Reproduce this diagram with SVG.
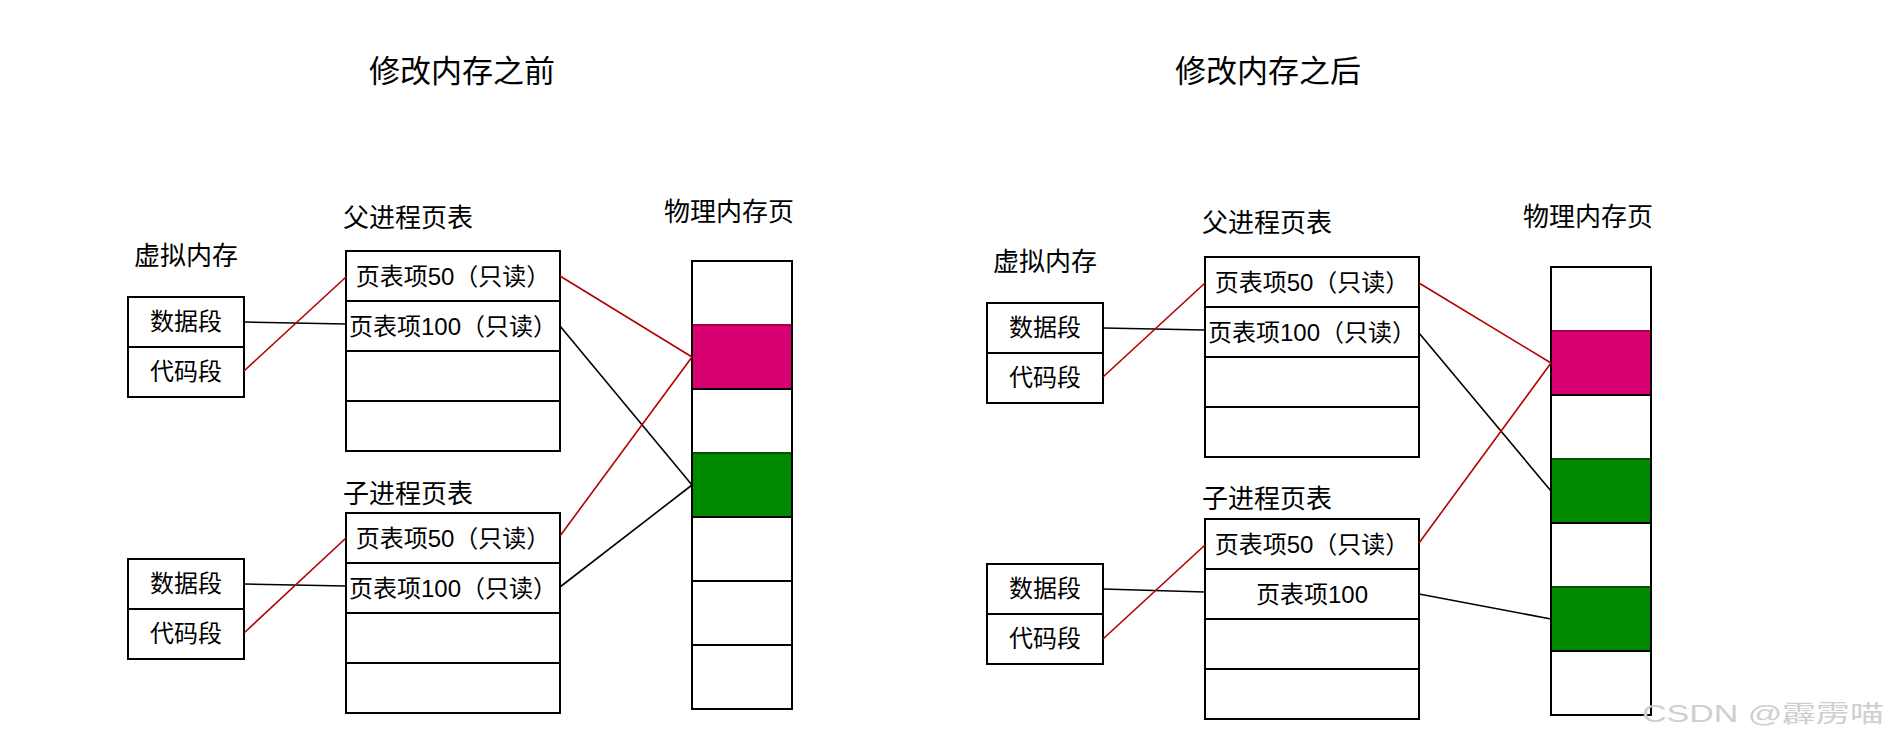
<svg xmlns="http://www.w3.org/2000/svg" width="1889" height="752" viewBox="0 0 1889 752">
<style>
text{font-family:"Liberation Sans","Noto Sans CJK SC",sans-serif;fill:#000}
.title{font-size:31px;text-anchor:middle}
.lbl{font-size:26px}
.cell{font-size:24px;text-anchor:middle}
.box{fill:#fff;stroke:#000;stroke-width:2}
.div{stroke:#000;stroke-width:2}
.pink{fill:#d80073;stroke:#a50040;stroke-width:2}
.green{fill:#008a00;stroke:#005700;stroke-width:2}
.red{stroke:#b20000;stroke-width:1.6;fill:none}
.blk{stroke:#000;stroke-width:1.6;fill:none}
.wm{font-size:24px;fill:#cfcfcf}
</style>
<rect width="1889" height="752" fill="#fff"/>

<text class="title" x="462" y="82">修改内存之前</text>
<text class="title" x="1268" y="82">修改内存之后</text>

<!-- LEFT -->
<g id="vm1">
<text class="lbl" x="186" y="265" text-anchor="middle">虚拟内存</text>
<rect class="box" x="128" y="297" width="116" height="100"/>
<line class="div" x1="128" y1="347" x2="244" y2="347"/>
<text class="cell" x="186" y="330">数据段</text>
<text class="cell" x="186" y="380">代码段</text>
</g>
<g id="vm2">
<rect class="box" x="128" y="559" width="116" height="100"/>
<line class="div" x1="128" y1="609" x2="244" y2="609"/>
<text class="cell" x="186" y="592">数据段</text>
<text class="cell" x="186" y="642">代码段</text>
</g>
<g id="parent1">
<text class="lbl" x="343" y="227">父进程页表</text>
<rect class="box" x="346" y="251" width="214" height="200"/>
<line class="div" x1="346" y1="301" x2="560" y2="301"/>
<line class="div" x1="346" y1="351" x2="560" y2="351"/>
<line class="div" x1="346" y1="401" x2="560" y2="401"/>
<text class="cell" x="453" y="285">页表项50（只读）</text>
<text class="cell" x="453" y="335">页表项100（只读）</text>
</g>
<g id="child1">
<text class="lbl" x="343" y="503">子进程页表</text>
<rect class="box" x="346" y="513" width="214" height="200"/>
<line class="div" x1="346" y1="563" x2="560" y2="563"/>
<line class="div" x1="346" y1="613" x2="560" y2="613"/>
<line class="div" x1="346" y1="663" x2="560" y2="663"/>
<text class="cell" x="453" y="547">页表项50（只读）</text>
<text class="cell" x="453" y="597">页表项100（只读）</text>
</g>
<g id="phys1">
<text class="lbl" x="664" y="221">物理内存页</text>
<rect class="box" x="692" y="261" width="100" height="448"/>
<rect class="pink" x="692" y="325" width="100" height="64"/>
<rect class="green" x="692" y="453" width="100" height="64"/>
<line class="div" x1="692" y1="389" x2="792" y2="389"/>
<line class="div" x1="692" y1="517" x2="792" y2="517"/>
<line class="div" x1="692" y1="581" x2="792" y2="581"/>
<line class="div" x1="692" y1="645" x2="792" y2="645"/>
<rect x="692" y="261" width="100" height="448" fill="none" stroke="#000" stroke-width="2"/>
</g>

<!-- RIGHT -->
<g id="vm3">
<text class="lbl" x="1045" y="271" text-anchor="middle">虚拟内存</text>
<rect class="box" x="987" y="303" width="116" height="100"/>
<line class="div" x1="987" y1="353" x2="1103" y2="353"/>
<text class="cell" x="1045" y="336">数据段</text>
<text class="cell" x="1045" y="386">代码段</text>
</g>
<g id="vm4">
<rect class="box" x="987" y="564" width="116" height="100"/>
<line class="div" x1="987" y1="614" x2="1103" y2="614"/>
<text class="cell" x="1045" y="597">数据段</text>
<text class="cell" x="1045" y="647">代码段</text>
</g>
<g id="parent2">
<text class="lbl" x="1202" y="232">父进程页表</text>
<rect class="box" x="1205" y="257" width="214" height="200"/>
<line class="div" x1="1205" y1="307" x2="1419" y2="307"/>
<line class="div" x1="1205" y1="357" x2="1419" y2="357"/>
<line class="div" x1="1205" y1="407" x2="1419" y2="407"/>
<text class="cell" x="1312" y="291">页表项50（只读）</text>
<text class="cell" x="1312" y="341">页表项100（只读）</text>
</g>
<g id="child2">
<text class="lbl" x="1202" y="508">子进程页表</text>
<rect class="box" x="1205" y="519" width="214" height="200"/>
<line class="div" x1="1205" y1="569" x2="1419" y2="569"/>
<line class="div" x1="1205" y1="619" x2="1419" y2="619"/>
<line class="div" x1="1205" y1="669" x2="1419" y2="669"/>
<text class="cell" x="1312" y="553">页表项50（只读）</text>
<text class="cell" x="1312" y="603">页表项100</text>
</g>
<g id="phys2">
<text class="lbl" x="1523" y="226">物理内存页</text>
<rect class="box" x="1551" y="267" width="100" height="448"/>
<rect class="pink" x="1551" y="331" width="100" height="64"/>
<rect class="green" x="1551" y="459" width="100" height="64"/>
<rect class="green" x="1551" y="587" width="100" height="64"/>
<line class="div" x1="1551" y1="395" x2="1651" y2="395"/>
<line class="div" x1="1551" y1="523" x2="1651" y2="523"/>
<line class="div" x1="1551" y1="651" x2="1651" y2="651"/>
<rect x="1551" y="267" width="100" height="448" fill="none" stroke="#000" stroke-width="2"/>
</g>

<g id="connectors">
<line class="blk" x1="244" y1="322" x2="346" y2="324"/>
<line class="red" x1="244" y1="371" x2="346" y2="277"/>
<line class="blk" x1="244" y1="584" x2="346" y2="586"/>
<line class="red" x1="244" y1="633" x2="346" y2="538"/>
<line class="red" x1="560" y1="276" x2="692" y2="357"/>
<line class="blk" x1="560" y1="326" x2="692" y2="485"/>
<line class="red" x1="560" y1="536" x2="692" y2="357"/>
<line class="blk" x1="560" y1="587" x2="692" y2="485"/>
<line class="blk" x1="1103" y1="328" x2="1205" y2="330"/>
<line class="red" x1="1103" y1="377" x2="1205" y2="283"/>
<line class="blk" x1="1103" y1="589" x2="1205" y2="592"/>
<line class="red" x1="1103" y1="639" x2="1205" y2="545"/>
<line class="red" x1="1419" y1="283" x2="1551" y2="363"/>
<line class="blk" x1="1419" y1="333" x2="1551" y2="491"/>
<line class="red" x1="1419" y1="543" x2="1551" y2="363"/>
<line class="blk" x1="1419" y1="594" x2="1551" y2="619"/>
</g>

<text class="wm" x="1642" y="722" textLength="242" lengthAdjust="spacingAndGlyphs">CSDN @霹雳喵</text>
</svg>
